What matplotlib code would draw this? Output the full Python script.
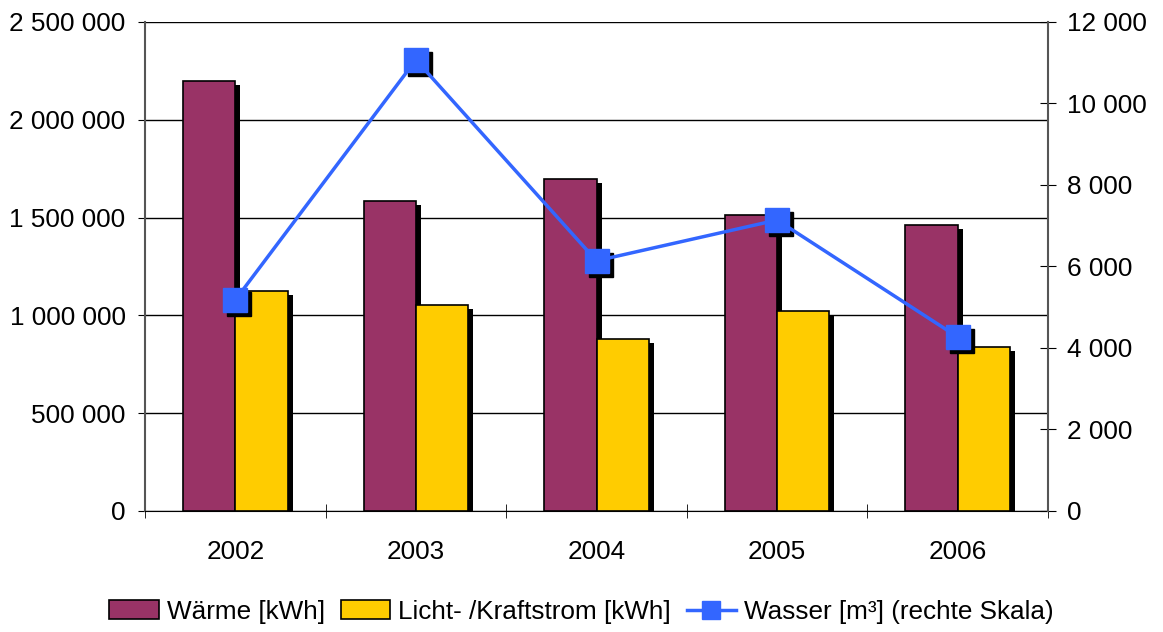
import matplotlib
matplotlib.use('Agg')
import matplotlib.pyplot as plt
import matplotlib.transforms as mtransforms
from matplotlib.ticker import FuncFormatter, FixedLocator
import numpy as np

# data
years = ['2002', '2003', '2004', '2005', '2006']
waerme = [2200000, 1585000, 1695000, 1515000, 1462000]
strom = [1125000, 1053000, 879000, 1022000, 838000]
wasser = [5180, 11070, 6140, 7140, 4270]

plt.rcParams['font.family'] = ['Liberation Sans', 'DejaVu Sans']
plt.rcParams['font.size'] = 18.8


def space_fmt(v, pos):
    return f'{int(round(v)):,}'.replace(',', ' ')


fig = plt.figure(figsize=(11.63, 6.32), dpi=100)
ax = fig.add_axes([0.1247, 0.1915, 0.9011 - 0.1247, 0.9652 - 0.1915])

x = np.arange(len(years))
w = 0.29
shadow = ax.transData + mtransforms.ScaledTranslation(5 / 100, -4 / 100, fig.dpi_scale_trans)

# shadows first
ax.bar(x - w / 2, waerme, w, color='black', transform=shadow, zorder=2)
ax.bar(x + w / 2, strom, w, color='black', transform=shadow, zorder=2)
b1 = ax.bar(x - w / 2, waerme, w, color='#993366', edgecolor='black', linewidth=1.2, zorder=3,
            label='Wärme [kWh]')
b2 = ax.bar(x + w / 2, strom, w, color='#FFCC00', edgecolor='black', linewidth=1.2, zorder=3,
            label='Licht- /Kraftstrom [kWh]')

ax.set_xlim(-0.5, 4.5)
ax.set_ylim(0, 2500000)
ax.set_yticks(np.arange(0, 2500001, 500000))
ax.yaxis.set_major_formatter(FuncFormatter(space_fmt))
ax.set_axisbelow(True)
ax.yaxis.grid(True, color='black', linewidth=1.0)
ax.tick_params(axis='y', length=5, pad=9, color='black')

ax.set_xticks(x)
ax.set_xticklabels(years)
ax.xaxis.set_minor_locator(FixedLocator(np.arange(-0.5, 5, 1)))
ax.tick_params(axis='x', which='major', length=0, pad=21)
ax.tick_params(axis='x', which='minor', length=10, direction='inout', color='black')

for s in ['top', 'right']:
    ax.spines[s].set_visible(False)
ax.spines['left'].set_color('#555555')
ax.spines['left'].set_linewidth(1.5)
ax.spines['bottom'].set_color('black')

ax2 = ax.twinx()
ax2.set_ylim(0, 12000)
ax2.set_yticks(np.arange(0, 12001, 2000))
ax2.yaxis.set_major_formatter(FuncFormatter(space_fmt))
ax2.tick_params(axis='y', length=11, direction='inout', pad=8, color='black')
for s in ['top', 'left', 'bottom']:
    ax2.spines[s].set_visible(False)
ax2.spines['right'].set_color('#555555')
ax2.spines['right'].set_linewidth(1.5)

shadow2 = ax2.transData + mtransforms.ScaledTranslation(4 / 100, -4 / 100, fig.dpi_scale_trans)
ax2.plot(x, wasser, linestyle='none', marker='s', markersize=17, color='black',
         transform=shadow2, zorder=4)
l1, = ax2.plot(x, wasser, color='#3366FF', linewidth=2.5, marker='s', markersize=17,
               markerfacecolor='#3366FF', markeredgecolor='#3366FF', zorder=5,
               label='Wasser [m³] (rechte Skala)')

fig.legend(handles=[b1, b2, l1], loc='center', bbox_to_anchor=(0.5, 0.032), ncol=3,
           frameon=False, handlelength=1.9, handletextpad=0.3, columnspacing=0.6,
           borderpad=0, markerscale=0.75)

fig.savefig('out.png', dpi=100)
